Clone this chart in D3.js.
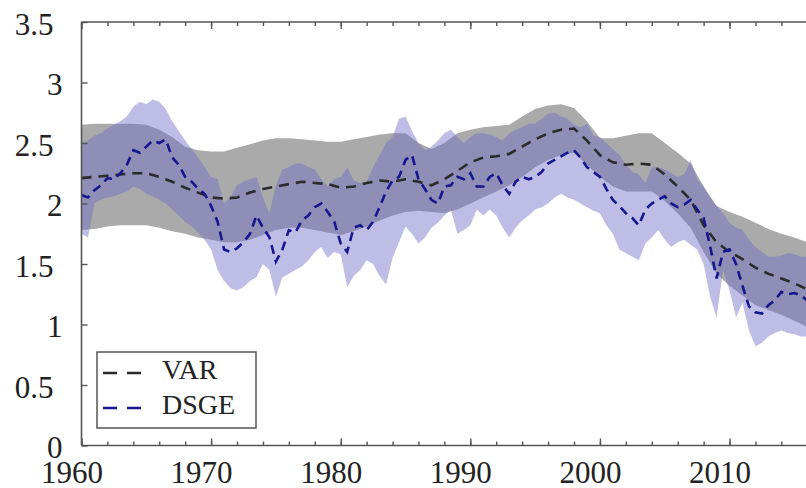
<!DOCTYPE html>
<html>
<head>
<meta charset="utf-8">
<script src="https://cdn.jsdelivr.net/npm/d3@7"></script>
<style>
  body { margin: 0; background: #fff; }
  svg { display: block; }
  text { font-family: "Liberation Serif", "DejaVu Serif", serif; fill: #222; }
</style>
</head>
<body>
<svg id="chart"></svg>
<script>
// VAR estimate, yearly 1960..2016
var varYears = d3.range(1960, 2017);
var varMean = [2.21, 2.22, 2.23, 2.24, 2.25, 2.25, 2.22, 2.18, 2.13, 2.09,
               2.05, 2.04, 2.05, 2.09, 2.12, 2.14, 2.16, 2.18, 2.17, 2.16,
               2.13, 2.14, 2.17, 2.19, 2.18, 2.20, 2.18, 2.15, 2.20, 2.27,
               2.34, 2.38, 2.39, 2.41, 2.47, 2.53, 2.58, 2.61, 2.62, 2.52,
               2.40, 2.34, 2.32, 2.33, 2.32, 2.24, 2.14, 2.03, 1.82, 1.68,
               1.60, 1.54, 1.47, 1.42, 1.38, 1.34, 1.29];
var varUpper = [2.65, 2.66, 2.66, 2.66, 2.66, 2.65, 2.61, 2.55, 2.47, 2.44,
                2.43, 2.43, 2.46, 2.49, 2.52, 2.54, 2.54, 2.53, 2.52, 2.51,
                2.51, 2.53, 2.55, 2.57, 2.58, 2.58, 2.50, 2.45, 2.50, 2.58,
                2.61, 2.63, 2.64, 2.65, 2.72, 2.78, 2.81, 2.82, 2.79, 2.68,
                2.54, 2.54, 2.56, 2.58, 2.58, 2.50, 2.42, 2.33, 2.14, 1.98,
                1.93, 1.89, 1.84, 1.79, 1.75, 1.72, 1.68];
var varLower = [1.78, 1.79, 1.81, 1.82, 1.82, 1.82, 1.80, 1.77, 1.75, 1.72,
                1.70, 1.68, 1.68, 1.70, 1.74, 1.78, 1.80, 1.80, 1.78, 1.76,
                1.74, 1.77, 1.81, 1.86, 1.90, 1.93, 1.94, 1.93, 1.92, 1.95,
                2.00, 2.05, 2.10, 2.15, 2.22, 2.30, 2.36, 2.40, 2.42, 2.32,
                2.22, 2.14, 2.10, 2.10, 2.10, 2.02, 1.92, 1.80, 1.60, 1.42,
                1.32, 1.24, 1.16, 1.12, 1.08, 1.03, 0.98];

// DSGE estimate, half-yearly 1960..2016
var dsgeYears = d3.range(0, 113).map(function(i) { return 1960 + i / 2; });
var dsgeMean = [2.07, 2.05, 2.11, 2.15, 2.21, 2.20, 2.25, 2.32, 2.44, 2.42,
                2.47, 2.52, 2.50, 2.53, 2.38, 2.32, 2.22, 2.18, 2.12, 2.08,
                1.98, 1.85, 1.62, 1.60, 1.63, 1.68, 1.75, 1.90, 1.80, 1.72,
                1.52, 1.62, 1.78, 1.76, 1.86, 1.90, 1.97, 2.00, 1.93, 1.85,
                1.67, 1.60, 1.80, 1.82, 1.78, 1.85, 1.97, 2.10, 2.19, 2.22,
                2.36, 2.40, 2.20, 2.12, 2.03, 2.00, 2.14, 2.15, 2.22, 2.20,
                2.25, 2.14, 2.14, 2.22, 2.25, 2.15, 2.08, 2.18, 2.22, 2.20,
                2.22, 2.26, 2.33, 2.36, 2.39, 2.42, 2.44, 2.38, 2.30, 2.26,
                2.22, 2.12, 2.03, 1.98, 1.92, 1.88, 1.82, 1.95, 2.00, 2.03,
                2.06, 2.00, 1.97, 1.99, 2.03, 1.95, 1.88, 1.65, 1.38, 1.60,
                1.62, 1.50, 1.32, 1.15, 1.10, 1.09, 1.16, 1.20, 1.27, 1.25,
                1.26, 1.24, 1.20];
var dsgeUpper = [2.50, 2.52, 2.56, 2.58, 2.62, 2.65, 2.68, 2.72, 2.80, 2.84,
                 2.82, 2.86, 2.84, 2.78, 2.68, 2.60, 2.52, 2.45, 2.38, 2.30,
                 2.22, 2.20, 2.00, 2.05, 2.15, 2.18, 2.20, 2.22, 2.05, 1.92,
                 2.15, 2.28, 2.30, 2.33, 2.33, 2.30, 2.28, 2.20, 2.14, 2.20,
                 2.22, 2.30, 2.19, 2.17, 2.18, 2.30, 2.40, 2.50, 2.55, 2.70,
                 2.72, 2.60, 2.50, 2.44, 2.47, 2.52, 2.58, 2.61, 2.55, 2.50,
                 2.55, 2.58, 2.58, 2.57, 2.55, 2.52, 2.58, 2.61, 2.63, 2.66,
                 2.66, 2.70, 2.74, 2.75, 2.72, 2.70, 2.65, 2.63, 2.66, 2.56,
                 2.55, 2.50, 2.45, 2.40, 2.32, 2.26, 2.24, 2.17, 2.30, 2.30,
                 2.28, 2.25, 2.22, 2.24, 2.36, 2.20, 2.14, 2.05, 1.98, 1.92,
                 1.84, 1.80, 1.78, 1.70, 1.64, 1.60, 1.56, 1.56, 1.57, 1.59,
                 1.58, 1.56, 1.56];
var dsgeLower = [1.75, 1.72, 2.00, 2.03, 2.05, 2.06, 2.08, 2.10, 2.14, 2.12,
                 2.08, 2.06, 2.03, 2.00, 1.95, 1.90, 1.85, 1.81, 1.76, 1.70,
                 1.62, 1.45, 1.36, 1.30, 1.28, 1.31, 1.36, 1.39, 1.50, 1.45,
                 1.23, 1.39, 1.42, 1.45, 1.48, 1.53, 1.60, 1.64, 1.55, 1.60,
                 1.58, 1.31, 1.40, 1.45, 1.53, 1.50, 1.40, 1.33, 1.55, 1.68,
                 1.81, 1.75, 1.67, 1.72, 1.80, 1.84, 1.90, 1.95, 1.75, 1.78,
                 1.82, 1.95, 1.90, 1.95, 1.90, 1.80, 1.72, 1.80, 1.86, 1.90,
                 1.95, 1.97, 2.00, 2.05, 2.08, 2.05, 2.03, 2.00, 1.97, 1.94,
                 1.92, 1.82, 1.75, 1.62, 1.59, 1.56, 1.53, 1.67, 1.72, 1.78,
                 1.70, 1.64, 1.68, 1.70, 1.66, 1.62, 1.50, 1.23, 1.06, 1.45,
                 1.28, 1.06, 1.18, 0.95, 0.82, 0.85, 0.90, 0.93, 0.95, 0.93,
                 0.92, 0.90, 0.90];

var xMajor = [1960, 1970, 1980, 1990, 2000, 2010];
var xMinor = d3.range(1960, 2016, 2);
var yTicks = [0, 0.5, 1, 1.5, 2, 2.5, 3, 3.5];
var seriesNames = ["VAR", "DSGE"];

var width = 806, height = 488;
// note: "top" is a reserved window property, so use pl/pr/pt/pb
var pl = 81.5, pr = 806, pt = 22, pb = 445.5;

var svg = d3.select("#chart").attr("width", width).attr("height", height);

var x = d3.scaleLinear().domain([1960, 2015.9]).range([pl, pr]);
var y = d3.scaleLinear().domain([0, 3.5]).range([pb, pt]);

svg.append("clipPath").attr("id", "plot")
  .append("rect").attr("x", pl).attr("y", pt)
  .attr("width", pr - pl).attr("height", pb - pt);

var g = svg.append("g").attr("clip-path", "url(#plot)");

function band(years, lo, hi) {
  return d3.area()
    .x(function(d, i) { return x(years[i]); })
    .y0(function(d, i) { return y(lo[i]); })
    .y1(function(d, i) { return y(hi[i]); })(years);
}
function line(years, vals) {
  return d3.line()
    .x(function(d, i) { return x(years[i]); })
    .y(function(d, i) { return y(vals[i]); })(years);
}

g.append("path").attr("d", band(varYears, varLower, varUpper))
  .attr("fill", "#aaaaaa");
g.append("path").attr("d", band(dsgeYears, dsgeLower, dsgeUpper))
  .attr("fill", "rgb(108,108,200)").attr("fill-opacity", 0.45);

g.append("path").attr("d", line(varYears, varMean))
  .attr("fill", "none").attr("stroke", "#2b2b2b").attr("stroke-width", 2.6)
  .attr("stroke-dasharray", "10,7");
g.append("path").attr("d", line(dsgeYears, dsgeMean))
  .attr("fill", "none").attr("stroke", "#16168f").attr("stroke-width", 2.6)
  .attr("stroke-dasharray", "9,6");

// axes, ticks point inward
var axisColor = "#555";
function styleAxis(sel) {
  sel.select(".domain").remove();
  sel.selectAll(".tick line").attr("stroke", axisColor).attr("stroke-width", 1.4);
}

svg.append("g").attr("transform", "translate(0," + pb + ")")
  .call(d3.axisBottom(x).tickValues(xMinor).tickSize(-4).tickFormat(""))
  .call(styleAxis);
svg.append("g").attr("transform", "translate(0," + pb + ")")
  .call(d3.axisBottom(x).tickValues(xMajor).tickSize(-7).tickFormat(d3.format("d")))
  .call(styleAxis)
  .call(function(s) {
    s.selectAll("text").attr("y", 0).attr("dy", 0).attr("transform", "translate(-10,37)")
      .attr("font-size", 31).attr("fill", "#222")
      .style("font-family", "Liberation Serif, serif");
  });

svg.append("g").attr("transform", "translate(0," + pt + ")")
  .call(d3.axisTop(x).tickValues(xMinor).tickSize(-4).tickFormat(""))
  .call(styleAxis);
svg.append("g").attr("transform", "translate(0," + pt + ")")
  .call(d3.axisTop(x).tickValues(xMajor).tickSize(-7).tickFormat(""))
  .call(styleAxis);

svg.append("g").attr("transform", "translate(" + pl + ",0)")
  .call(d3.axisLeft(y).tickValues(yTicks).tickSize(-6).tickFormat(function(d) { return String(d); }))
  .call(styleAxis)
  .call(function(s) {
    s.selectAll("text")
      .attr("x", function(d) { return Number.isInteger(d) ? -19 : -28; })
      .attr("dy", 12).attr("font-size", 31).attr("fill", "#222")
      .style("font-family", "Liberation Serif, serif");
  });

// frame lines
svg.append("line").attr("x1", pl).attr("x2", pr).attr("y1", pb).attr("y2", pb)
  .attr("stroke", axisColor).attr("stroke-width", 1.6);
svg.append("line").attr("x1", pl).attr("x2", pr).attr("y1", pt).attr("y2", pt)
  .attr("stroke", axisColor).attr("stroke-width", 1.6);
svg.append("line").attr("x1", pl).attr("x2", pl).attr("y1", pt).attr("y2", pb)
  .attr("stroke", axisColor).attr("stroke-width", 1.6);

// legend
var legend = svg.append("g");
legend.append("rect").attr("x", 97).attr("y", 352).attr("width", 159).attr("height", 76)
  .attr("fill", "#fff").attr("stroke", "#555").attr("stroke-width", 1.5);
var legendColors = ["#2b2b2b", "#16168f"];
seriesNames.forEach(function(name, i) {
  var ly = 373 + i * 35;
  legend.append("line").attr("x1", 103).attr("x2", 146).attr("y1", ly).attr("y2", ly)
    .attr("stroke", legendColors[i]).attr("stroke-width", 2.4)
    .attr("stroke-dasharray", "14,10");
  legend.append("text").attr("x", 162).attr("y", ly + 6).attr("font-size", 28)
    .text(name);
});
</script>
</body>
</html>
